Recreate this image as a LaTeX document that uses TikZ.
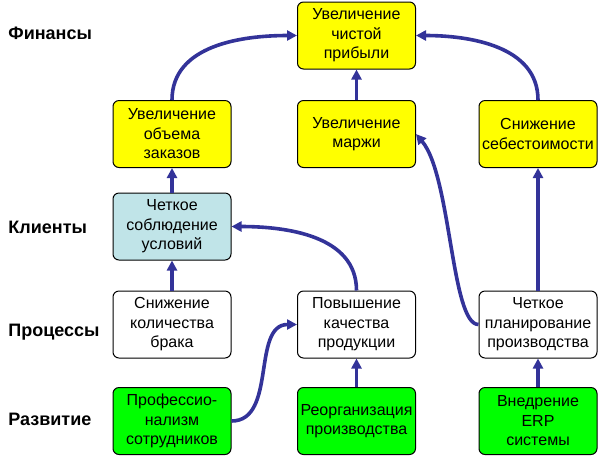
\documentclass[tikz,border=0pt]{standalone}
\usepackage{fontspec}
\setmainfont{Liberation Sans}
\usetikzlibrary{arrows.meta}
\definecolor{linkblue}{RGB}{51,51,153}
\definecolor{boxyellow}{RGB}{255,255,0}
\definecolor{boxblue}{RGB}{192,228,232}
\definecolor{boxgreen}{RGB}{0,255,0}

\begin{document}
\begin{tikzpicture}[x=0.5pt,y=0.5pt,
  box/.style = {rectangle,rounded corners=3pt,draw=black,line width=0.5pt,minimum width=59pt,minimum height=33.5pt,inner sep=0pt,align=center,font=\fontsize{8}{9.75}\selectfont},
  lbl/.style = {anchor=west,inner sep=0pt,font=\fontsize{9}{11}\selectfont\bfseries},
  link/.style = {-{Triangle[length=5pt,width=5pt]},draw=linkblue,line width=1.8pt}]
\useasboundingbox (0,0) rectangle (600,-457);
\foreach \t/\y [count=\i] in {Финансы/33, Клиенты/227, Процессы/332, Развитие/419}
    \node[lbl] (layer\i) at (8,-\y) {\t};
\node[box,fill=boxyellow] (profit) at (356.5,-35.5) {Увеличение\\чистой\\прибыли};
\node[box,fill=boxyellow] (orders) at (172,-134) {Увеличение\\объема\\заказов};
\node[box,fill=boxyellow] (margin) at (356.5,-134) {Увеличение\\маржи};
\node[box,fill=boxyellow] (cost) at (538,-134) {Снижение\\себестоимости};
\node[box,fill=boxblue] (terms) at (172,-226.5) {Четкое\\соблюдение\\условий};
\node[box,fill=white] (defects) at (172,-324.5) {Снижение\\количества\\брака};
\node[box,fill=white] (quality) at (356.5,-324.5) {Повышение\\качества\\продукции};
\node[box,fill=white] (planning) at (538,-324.5) {Четкое\\планирование\\производства};
\node[box,fill=boxgreen] (staff) at (172,-421) {Профессио-\\нализм\\сотрудников};
\node[box,fill=boxgreen] (reorg) at (356.5,-421) {Реорганизация\\производства};
\node[box,fill=boxgreen] (erp) at (538,-421) {Внедрение\\ERP\\системы};
\foreach \a/\b in {terms/orders, margin/profit, defects/terms, reorg/quality, erp/planning, planning/cost}
    \draw[link] (\a) -- (\b);
\draw[link] (orders.north) to[out=90,in=180] (profit.west);
\draw[link] (cost.north) to[out=90,in=0] (profit.east);
\draw[link] (quality.north) to[out=90,in=0] (terms.east);
\draw[link] (staff.east) to[out=0,in=180] (quality.west);
\draw[link] (planning.west) to[out=180,in=-50,out looseness=0.35,in looseness=0.7] (margin.east);
\end{tikzpicture}
\end{document}
